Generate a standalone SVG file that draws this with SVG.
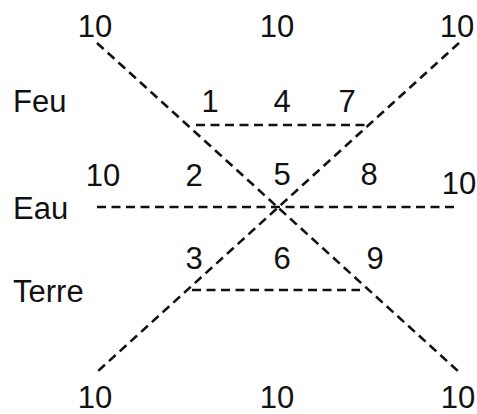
<svg xmlns="http://www.w3.org/2000/svg" width="477" height="414" viewBox="0 0 477 414">
<style>
.t{font-family:"Liberation Sans",Arial,sans-serif;font-size:31px;fill:#111}
.c{text-anchor:middle}
.d{stroke:#111;stroke-width:2.6;stroke-dasharray:9 5.5;fill:none}
</style>
<rect width="477" height="414" fill="#fff"/>
<g id="connectors">
<line class="d" x1="97" y1="43" x2="459" y2="372"/>
<line class="d" x1="459" y1="43" x2="97" y2="372"/>
<line class="d" x1="196" y1="125" x2="366" y2="125"/>
<line class="d" x1="97" y1="207" x2="458" y2="207"/>
<line class="d" x1="192" y1="290" x2="360" y2="290"/>
</g>
<g id="labels">
<text class="t" x="13" y="112">Feu</text>
<text class="t" x="13" y="219">Eau</text>
<text class="t" x="13" y="302">Terre</text>
</g>
<g id="top">
<text class="t c" x="95" y="37">10</text>
<text class="t c" x="277" y="37">10</text>
<text class="t c" x="457" y="37">10</text>
</g>
<g id="row1">
<text class="t c" x="210" y="112">1</text>
<text class="t c" x="282" y="112">4</text>
<text class="t c" x="347" y="112">7</text>
</g>
<g id="row2">
<text class="t c" x="103" y="186">10</text>
<text class="t c" x="194" y="186">2</text>
<text class="t c" x="282" y="185">5</text>
<text class="t c" x="369" y="185">8</text>
<text class="t c" x="459" y="194">10</text>
</g>
<g id="row3">
<text class="t c" x="194" y="269">3</text>
<text class="t c" x="282" y="269">6</text>
<text class="t c" x="375" y="269">9</text>
</g>
<g id="bottom">
<text class="t c" x="95" y="408">10</text>
<text class="t c" x="277" y="408">10</text>
<text class="t c" x="458" y="408">10</text>
</g>
</svg>
